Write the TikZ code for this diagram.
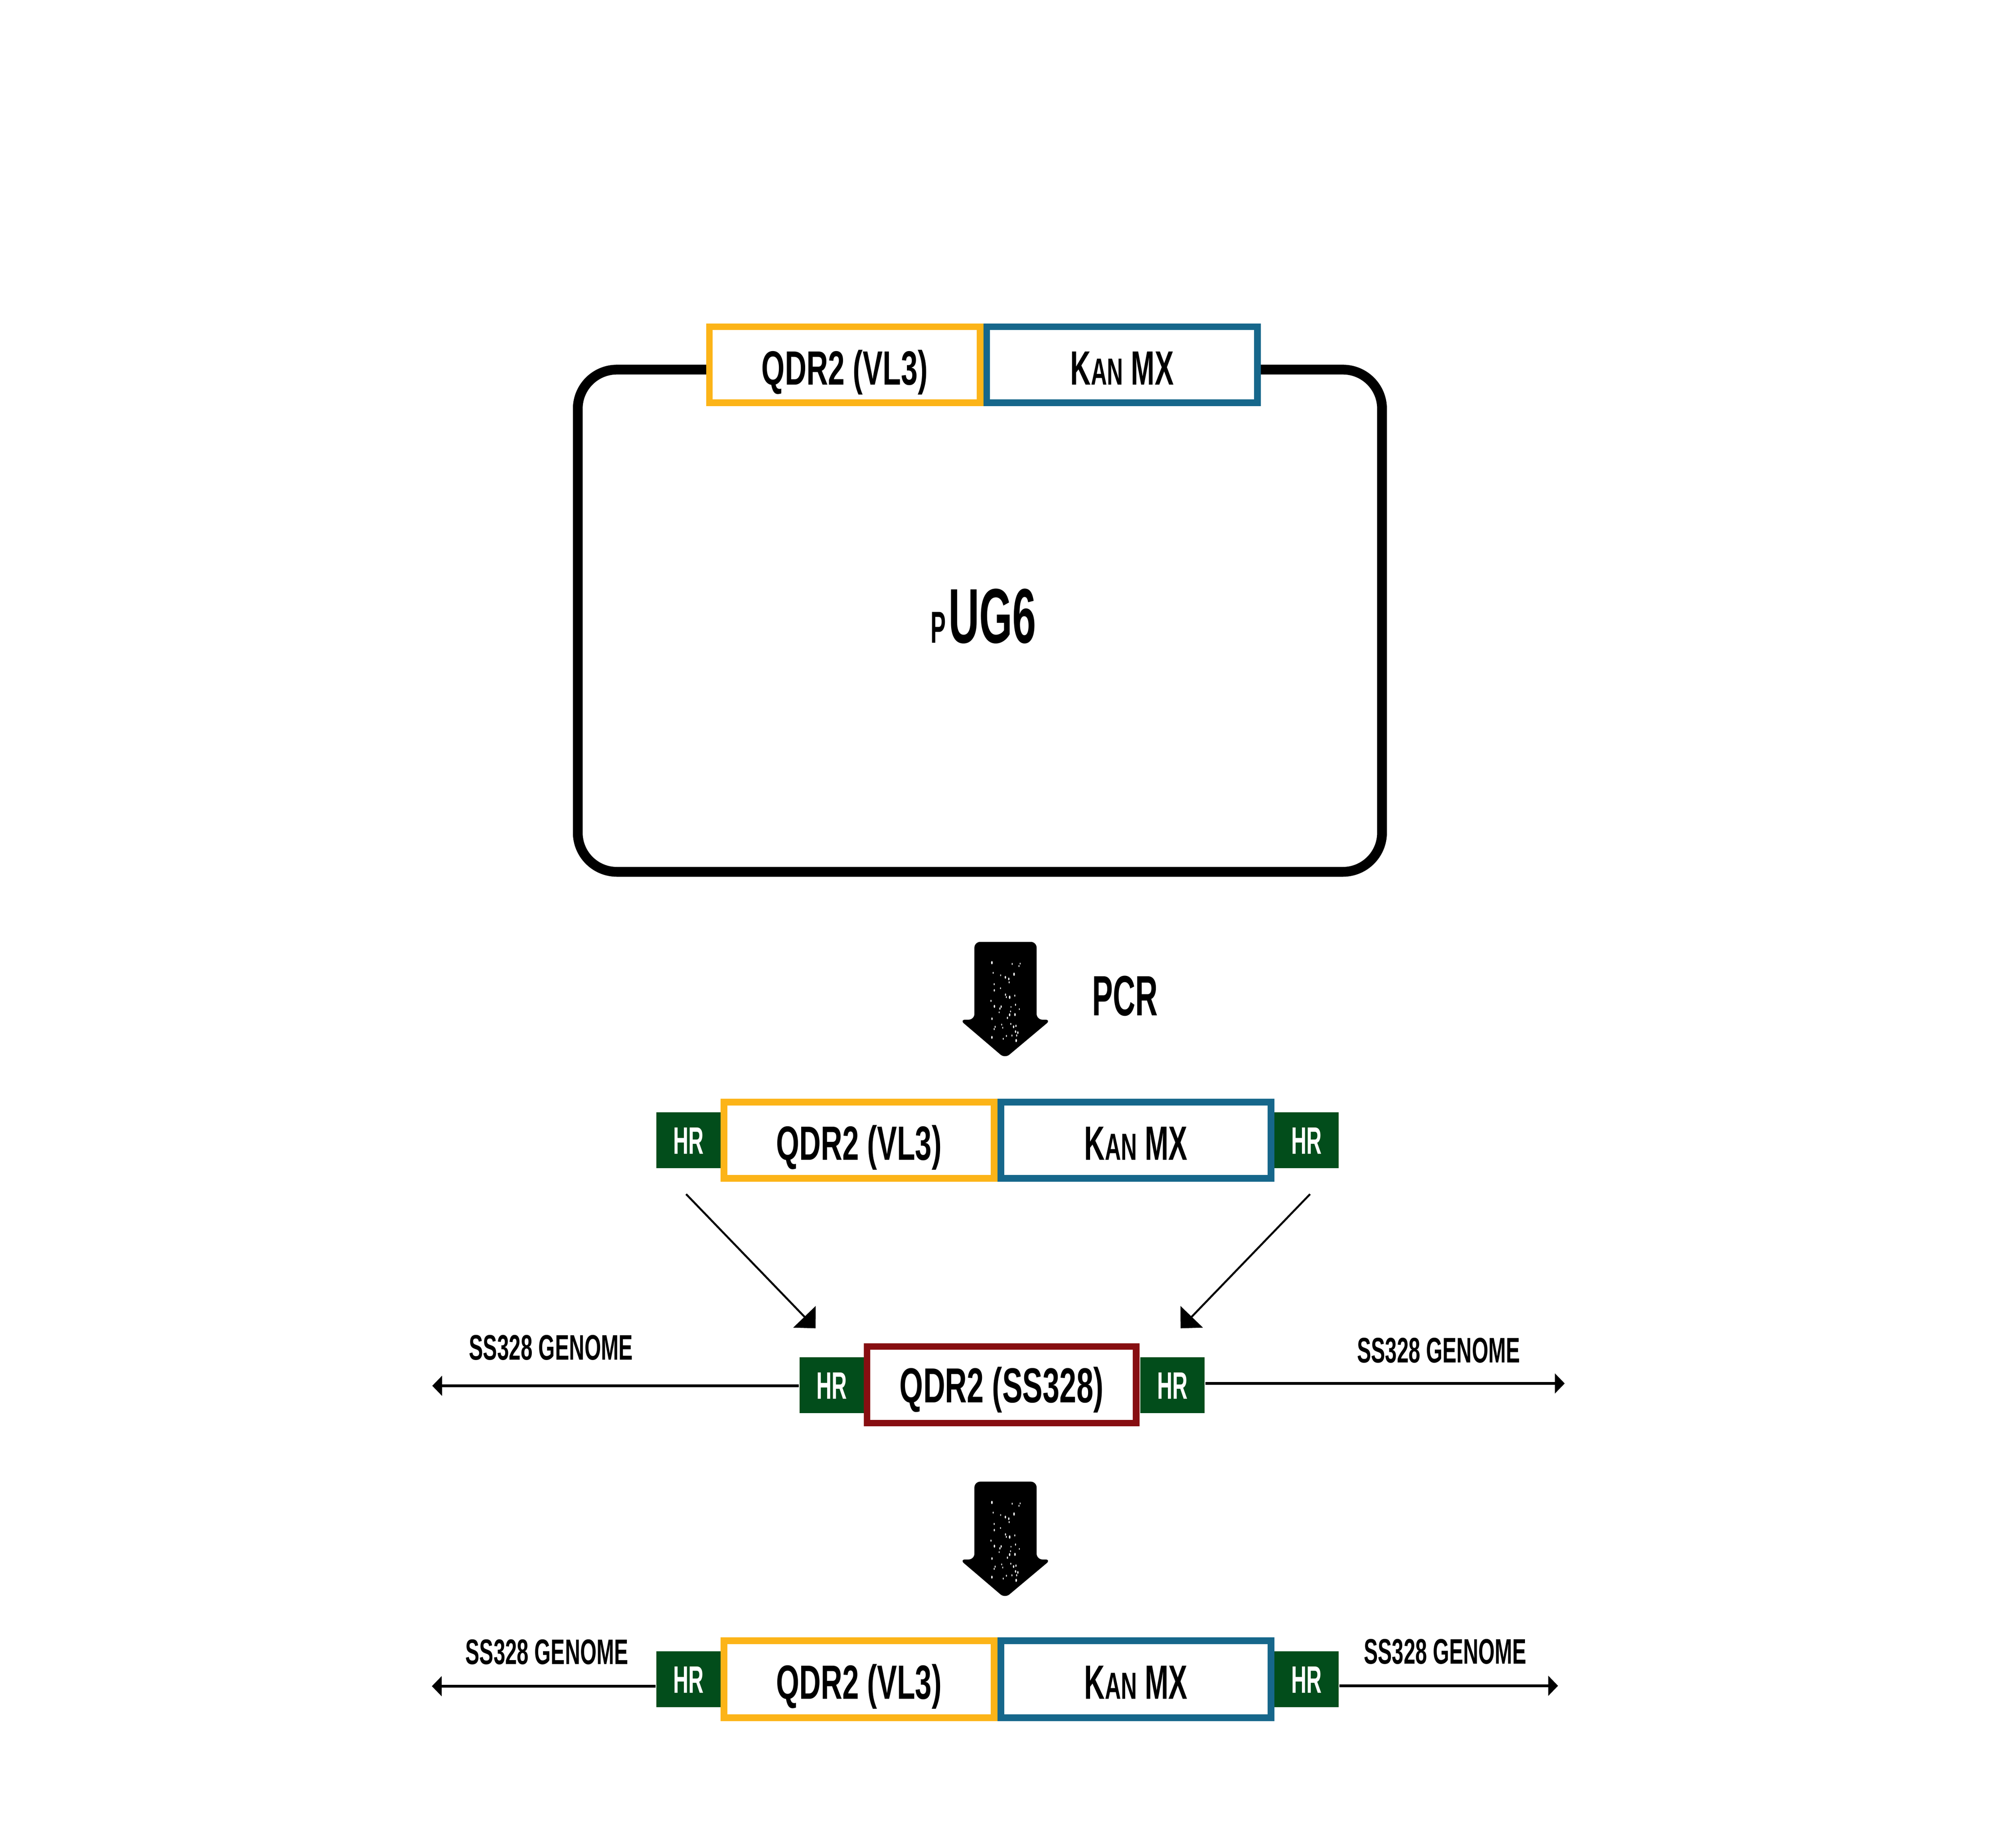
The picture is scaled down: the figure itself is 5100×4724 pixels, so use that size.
\documentclass[tikz,border=0pt]{standalone}
\usepackage{fontspec}
\setmainfont{Liberation Sans}
\usetikzlibrary{arrows.meta}
\definecolor{qyel}{RGB}{252,180,24}
\definecolor{qblu}{RGB}{22,103,139}
\definecolor{qgrn}{RGB}{2,77,27}
\definecolor{qred}{RGB}{135,14,17}
\newcommand\fitw[3]{\resizebox{#1pt}{\height}{\fontsize{#2pt}{#2pt}\selectfont\bfseries #3}}
\newcommand\kanmx{\resizebox{26.4pt}{\height}{\bfseries\fontsize{12.3pt}{12.3pt}\selectfont K\fontsize{9.64pt}{9.64pt}\selectfont AN\fontsize{12.3pt}{12.3pt}\selectfont{} MX}}
\begin{document}
\begin{tikzpicture}[x=0.1pt,y=-0.1pt,
  gbox/.style={draw,line width=1.7pt,fill=white,inner sep=0pt,text height=10.2pt,text depth=0pt,minimum height=19.5pt},
  hrbox/.style={fill=qgrn,draw=none,inner sep=0pt,minimum width=16.4pt,minimum height=14.3pt,text=white,text height=7pt,text depth=0pt},
  lbl/.style={anchor=base west,inner sep=0pt},
  gline/.style={line width=0.65pt,-{Triangle[length=2.5pt,width=5pt]}},
  dline/.style={line width=0.5pt,-{Triangle[length=4.1pt,width=7.9pt]}},
  bigarrow/.style={fill=black,rounded corners=1.5pt}]
\useasboundingbox (0,0) rectangle (5100,4724);

% plasmid
\draw[line width=2.5pt,rounded corners=10pt] (1477,945) rectangle (3533,2229);
\node[gbox,draw=qyel,minimum width=69.2pt,minimum height=19.4pt] (t1) at (2159.5,932.5) {\fitw{42.5}{12.29}{QDR2 (VL3)}};
\node[gbox,draw=qblu,minimum width=69.2pt,minimum height=19.4pt] (t2) at (2868.5,932.5) {\kanmx};
\node[lbl] (pug) at (2377,1644) {\fitw{3.9}{11.45}{P}\hspace{0.7pt}\fitw{22.4}{19.83}{UG6}};

% big arrows
\foreach \dy in {0,1380}{
  \begin{scope}[shift={(0,\dy)}]
    \path[bigarrow] (2491,2408) -- (2650,2408) -- (2650,2607) -- (2687,2607) -- (2569,2706) -- (2453,2607) -- (2491,2607) -- cycle;
    \pgfmathsetseed{11}
    \foreach \i in {1,...,45}{
      \pgfmathsetmacro\sx{2571+38*rand}
      \pgfmathsetmacro\sy{2565+105*rand}
      \pgfmathsetmacro\sr{1+1.2*rnd}
      \fill[white] (\sx,\sy) ellipse [x radius=\sr, y radius=2*\sr];
    }
  \end{scope}
}
\node[lbl] (pcr) at (2790,2596) {\fitw{16.8}{14.53}{PCR}};

% PCR product
\node[hrbox] (h2l) at (1760,2915.5) {\fitw{7.8}{9.78}{HR}};
\node[gbox,draw=qyel,minimum width=69.1pt] (p2a) at (2196,2915) {\fitw{42.3}{12.29}{QDR2 (VL3)}\hspace{1.2pt}};
\node[gbox,draw=qblu,minimum width=69.1pt] (p2b) at (2904,2915) {\kanmx};
\node[hrbox] (h2r) at (3340,2915.5) {\fitw{7.8}{9.78}{HR}};

% diagonal arrows
\coordinate (d1a) at (1754,3053);
\coordinate (d1b) at (2085,3396);
\coordinate (d2a) at (3349,3053);
\coordinate (d2b) at (3018,3396);
\draw[dline] (d1a) -- (d1b);
\draw[dline] (d2a) -- (d2b);

% genome with QDR2 (SS328)
\node[hrbox] (h3l) at (2126,3541.5) {\fitw{7.8}{9.78}{HR}};
\node[gbox,draw=qred,minimum width=68.8pt,minimum height=19.6pt,text height=9pt] (p3) at (2560.5,3540.5) {\fitw{52.1}{12.57}{QDR2 (SS328)}\hspace{4.6pt}};
\node[hrbox] (h3r) at (2997,3541.5) {\fitw{7.8}{9.78}{HR}};
\coordinate (g3l) at (1105,3543);
\coordinate (g3r) at (4000,3537);
\draw[gline] (g3l -| h3l.west) -- (g3l);
\draw[gline] (g3r -| h3r.east) -- (g3r);
\node[lbl] (l3l) at (1197,3477) {\fitw{41.9}{9.08}{SS328 GENOME}};
\node[lbl] (l3r) at (3467,3484) {\fitw{41.7}{9.08}{SS328 GENOME}};

% result
\node[hrbox] (h4l) at (1760,4293.5) {\fitw{7.8}{9.78}{HR}};
\node[gbox,draw=qyel,minimum width=69.1pt,minimum height=19.7pt] (p4a) at (2196,4293) {\fitw{42.3}{12.29}{QDR2 (VL3)}\hspace{1.2pt}};
\node[gbox,draw=qblu,minimum width=69.1pt,minimum height=19.7pt] (p4b) at (2904,4293) {\kanmx};
\node[hrbox] (h4r) at (3340,4293.5) {\fitw{7.8}{9.78}{HR}};
\coordinate (g4l) at (1104,4311);
\coordinate (g4r) at (3983,4310);
\draw[gline] (g4l -| h4l.west) -- (g4l);
\draw[gline] (g4r -| h4r.east) -- (g4r);
\node[lbl] (l4l) at (1188,4255) {\fitw{41.6}{9.08}{SS328 GENOME}};
\node[lbl] (l4r) at (3485,4254) {\fitw{41.5}{9.08}{SS328 GENOME}};
\end{tikzpicture}
\end{document}
